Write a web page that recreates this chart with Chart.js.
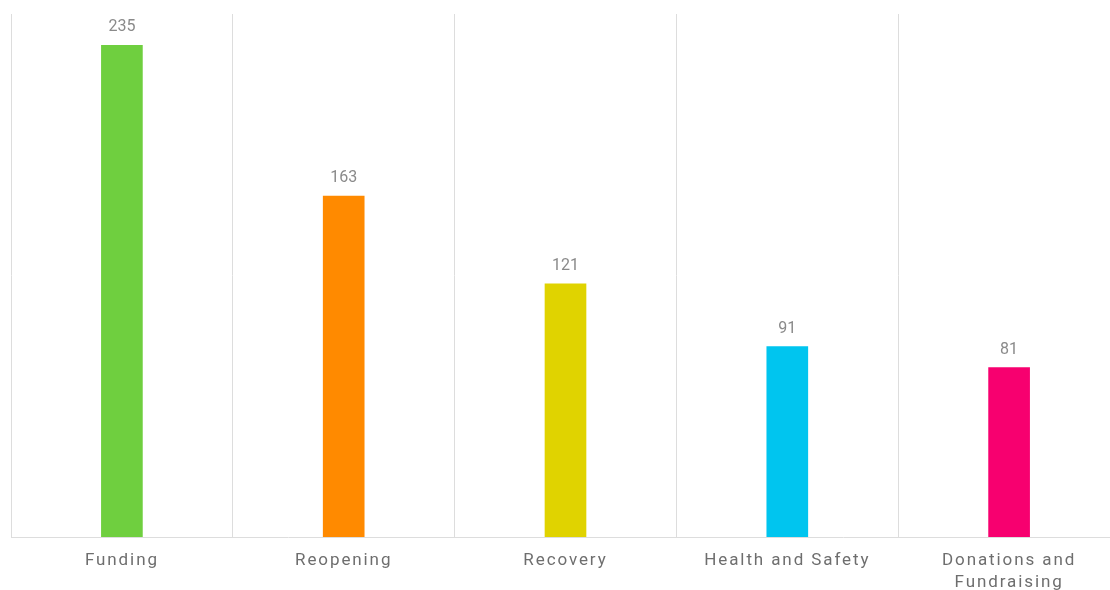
<!DOCTYPE html>
<html>
<head>
<meta charset="utf-8">
<script src="https://cdn.jsdelivr.net/npm/chart.js@4/dist/chart.umd.min.js"></script>
<style>
  html, body { margin: 0; padding: 0; background: #fff; overflow: hidden; }
  #wrap { width: 1120px; height: 607px; position: relative; }
</style>
</head>
<body>
<div id="wrap"><canvas id="chart"></canvas></div>
<script>
// chart data
const categories = ['Funding', 'Reopening', 'Recovery', 'Health and Safety', ['Donations and', 'Fundraising']];
const counts = [235, 163, 121, 91, 81];
const barColors = ['#6fcf3f', '#ff8a00', '#e0d300', '#00c5ef', '#f7006f'];

// draws the value above each bar
const valueLabels = {
  id: 'valueLabels',
  afterDatasetsDraw(chart) {
    const ctx = chart.ctx;
    const meta = chart.getDatasetMeta(0);
    ctx.save();
    ctx.letterSpacing = '0px';
    ctx.font = '16px Roboto';
    ctx.fillStyle = '#8a8a8a';
    ctx.textAlign = 'center';
    ctx.textBaseline = 'bottom';
    meta.data.forEach((bar, i) => {
      ctx.fillText(String(counts[i]), bar.x, bar.y - 10);
    });
    ctx.restore();
  }
};

// spaced out tick text
const tickSpacing = {
  id: 'tickSpacing',
  beforeDraw(chart) { chart.ctx.letterSpacing = '1.9px'; },
  afterDraw(chart) { chart.ctx.letterSpacing = '0px'; }
};

new Chart(document.getElementById('chart'), {
  type: 'bar',
  data: {
    labels: categories,
    datasets: [{
      data: counts,
      backgroundColor: barColors,
      borderWidth: 0,
      barThickness: 41
    }]
  },
  options: {
    responsive: true,
    maintainAspectRatio: false,
    animation: false,
    layout: { padding: { left: 11, top: 14, right: 0, bottom: 0 } },
    plugins: {
      legend: { display: false },
      tooltip: { enabled: false }
    },
    scales: {
      x: {
        grid: { color: '#dddddd', lineWidth: 1, drawTicks: false, offset: true },
        border: { color: '#dddddd' },
        ticks: {
          color: '#6e6e6e',
          font: { family: 'Roboto', size: 17, lineHeight: '22px' },
          padding: 13,
          maxRotation: 0,
          autoSkip: false
        }
      },
      y: {
        display: false,
        min: 0,
        max: 250
      }
    }
  },
  plugins: [valueLabels, tickSpacing]
});
</script>
</body>
</html>
